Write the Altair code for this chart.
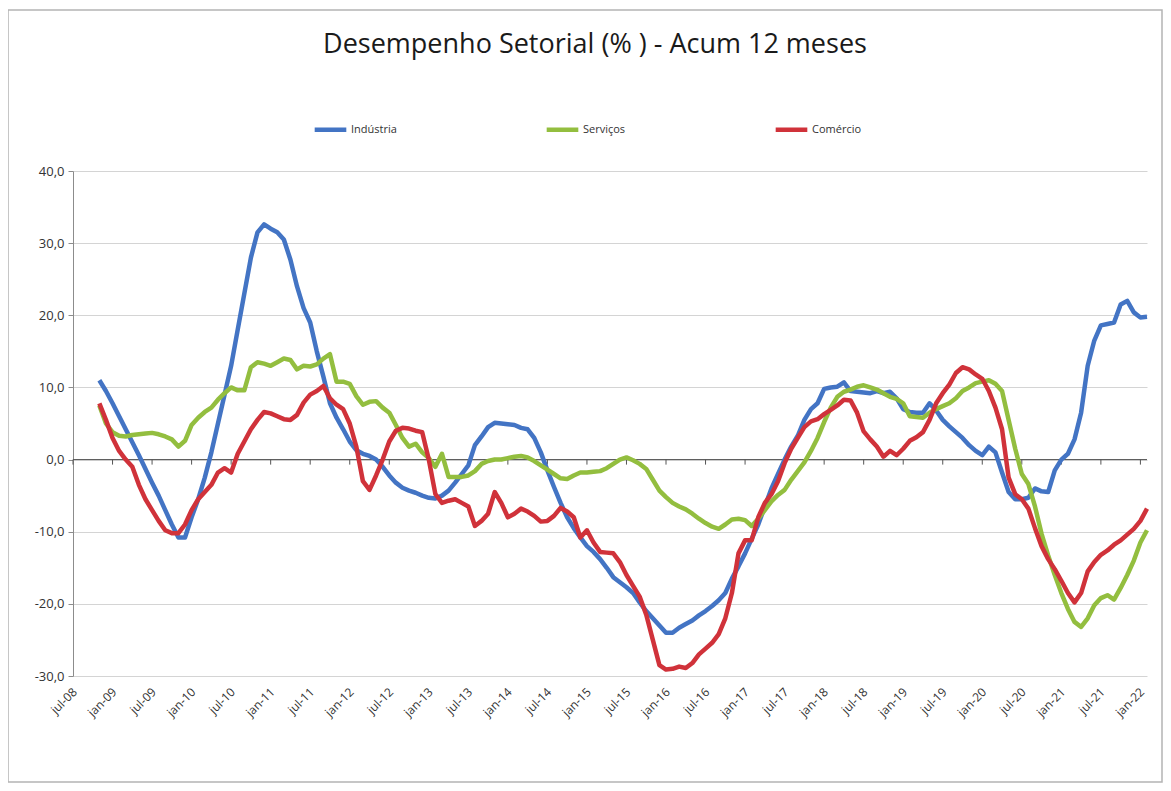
import altair as alt
import pandas as pd

# months since jul-08 (0 = jul-08); data start at nov-08 (4)
start_month = 4

industria = [11.0, 9.5, 7.8, 6.0, 4.2, 2.4, 0.6, -1.3, -3.2, -5.0, -7.0, -9.0, -10.8, -10.8,
             -8.0, -5.5, -2.5, 1.0, 5.0, 9.0, 13.0, 18.0, 23.0, 28.0, 31.5, 32.6, 32.0, 31.5,
             30.5, 27.7, 24.0, 21.0, 19.0, 15.0, 11.5, 7.8, 5.8, 4.2, 2.5, 1.3, 0.8, 0.5,
             0.0, -1.0, -2.2, -3.2, -3.9, -4.3, -4.6, -5.0, -5.3, -5.4, -5.0, -4.3, -3.2, -2.0,
             -0.8, 2.0, 3.2, 4.5, 5.1, 5.0, 4.9, 4.8, 4.4, 4.2, 3.0, 1.0, -1.5, -3.8,
             -6.0, -8.0, -9.5, -10.8, -12.0, -12.8, -13.8, -15.0, -16.3, -17.0, -17.7, -18.5, -19.8, -21.0,
             -22.0, -23.0, -24.0, -24.0, -23.3, -22.8, -22.3, -21.6, -21.0, -20.3, -19.5, -18.5, -16.5, -14.8,
             -13.0, -11.0, -9.0, -6.5, -4.0, -2.0, 0.0, 1.8, 3.3, 5.5, 7.0, 7.8, 9.8, 10.0,
             10.1, 10.7, 9.5, 9.4, 9.3, 9.2, 9.5, 9.2, 9.4, 8.5, 7.0, 6.6, 6.5, 6.5,
             7.8, 6.8, 5.5, 4.6, 3.8, 3.0, 2.0, 1.2, 0.6, 1.8, 1.0, -1.8, -4.5, -5.5,
             -5.5, -5.3, -4.0, -4.4, -4.5, -1.5, 0.0, 0.8, 2.8, 6.5, 13.0, 16.5, 18.6, 18.8,
             19.0, 21.5, 22.0, 20.4, 19.7, 19.8]

servicos = [7.5, 5.0, 3.8, 3.3, 3.2, 3.4, 3.5, 3.6, 3.7, 3.5, 3.2, 2.8, 1.8, 2.6,
            4.8, 5.8, 6.6, 7.2, 8.3, 9.2, 10.0, 9.6, 9.6, 12.8, 13.5, 13.3, 13.0, 13.5,
            14.0, 13.8, 12.5, 13.0, 12.9, 13.2, 14.0, 14.6, 10.8, 10.8, 10.5, 8.8, 7.6, 8.0,
            8.1, 7.2, 6.5, 4.8, 3.0, 1.8, 2.2, 1.0, 0.2, -1.0, 0.8, -2.4, -2.4, -2.4,
            -2.2, -1.6, -0.6, -0.2, 0.0, 0.0, 0.2, 0.4, 0.5, 0.3, -0.2, -0.8, -1.4, -2.0,
            -2.6, -2.7, -2.2, -1.8, -1.8, -1.7, -1.6, -1.2, -0.6, 0.0, 0.3, -0.1, -0.6, -1.3,
            -2.8, -4.3, -5.2, -6.0, -6.5, -6.9, -7.5, -8.2, -8.8, -9.3, -9.6, -9.0, -8.3, -8.2,
            -8.4, -9.2, -8.2, -7.0, -5.8, -4.9, -4.2, -2.8, -1.6, -0.4, 1.2, 3.0, 5.2, 7.2,
            8.7, 9.4, 9.7, 10.1, 10.3, 10.0, 9.7, 9.2, 8.7, 8.4, 7.8, 6.0, 5.9, 5.8,
            6.5, 7.0, 7.4, 7.8, 8.5, 9.5, 10.0, 10.6, 10.8, 11.0, 10.5, 9.5, 5.5, 1.5,
            -2.0, -3.4, -6.5, -10.3, -13.3, -16.0, -18.5, -20.7, -22.5, -23.2, -22.0, -20.2, -19.2, -18.8,
            -19.4, -17.8, -16.0, -14.0, -11.5, -9.8]

comercio = [7.8, 5.5, 3.0, 1.2, 0.0, -1.0, -3.5, -5.5, -7.0, -8.5, -9.8, -10.2, -10.2, -9.0,
            -7.0, -5.5, -4.5, -3.5, -1.8, -1.2, -1.8, 0.8, 2.5, 4.2, 5.5, 6.6, 6.4, 6.0,
            5.6, 5.5, 6.2, 7.9, 9.0, 9.5, 10.2, 8.5, 7.6, 7.0, 5.0, 1.8, -3.0, -4.2,
            -2.2, 0.0, 2.5, 4.0, 4.4, 4.3, 4.0, 3.8, 0.0, -4.8, -6.0, -5.7, -5.5, -6.0,
            -6.5, -9.2, -8.5, -7.5, -4.5, -6.0, -8.0, -7.5, -6.8, -7.2, -7.8, -8.6, -8.5, -7.8,
            -6.7, -7.2, -8.0, -10.8, -9.8, -11.5, -12.8, -12.9, -13.0, -14.2, -16.0, -17.5, -19.0, -21.5,
            -25.0, -28.5, -29.1, -29.0, -28.7, -28.9, -28.2, -27.0, -26.2, -25.4, -24.2, -22.0, -18.5, -13.0,
            -11.2, -11.2, -8.0, -6.0, -4.8, -3.0, -0.5, 1.5, 3.0, 4.5, 5.3, 5.6, 6.3, 6.9,
            7.5, 8.3, 8.2, 6.5, 3.9, 2.8, 1.8, 0.4, 1.2, 0.6, 1.5, 2.6, 3.1, 3.8,
            5.5, 7.8, 9.2, 10.4, 12.0, 12.8, 12.5, 11.8, 11.2, 9.5, 7.2, 4.2, -2.5, -4.8,
            -5.5, -6.8, -9.5, -12.0, -13.8, -15.2, -16.8, -18.5, -19.8, -18.5, -15.5, -14.2, -13.2, -12.6,
            -11.8, -11.2, -10.4, -9.6, -8.5, -6.8]

series_names = ["Indústria", "Serviços", "Comércio"]
series_colors = ["#4374C4", "#93BE3F", "#D0323A"]
series_widths = [4.5, 4.5, 2.2]

tick_labels = ["jul-08", "jan-09", "jul-09", "jan-10", "jul-10", "jan-11", "jul-11", "jan-12",
               "jul-12", "jan-13", "jul-13", "jan-14", "jul-14", "jan-15", "jul-15", "jan-16",
               "jul-16", "jan-17", "jul-17", "jan-18", "jul-18", "jan-19", "jul-19", "jan-20",
               "jul-20", "jan-21", "jul-21", "jan-22"]
tick_months = [6 * i for i in range(len(tick_labels))]

y_ticks = [-30, -20, -10, 0, 10, 20, 30, 40]

rows = []
for name, vals in zip(series_names, [industria, servicos, comercio]):
    for i, v in enumerate(vals):
        rows.append({"m": start_month + i, "v": v, "serie": name})
df = pd.DataFrame(rows)

W, H = 1074, 505
FONT = "Open Sans"

x_scale = alt.Scale(domain=[0, 163], nice=False, zero=False)
y_scale = alt.Scale(domain=[-30, 40], nice=False)
y_axis = alt.Axis(values=y_ticks, title=None,
                  labelExpr="(datum.value < 0 ? '-' : '') + abs(datum.value) + ',0'",
                  grid=True, gridColor="#d4d4d4", gridWidth=1,
                  domain=True, domainColor="#8c8c8c", ticks=True, tickSize=5,
                  tickColor="#8c8c8c", labelFontSize=13, labelFont=FONT,
                  labelColor="#333333", labelPadding=4)

frame = alt.Chart(pd.DataFrame({"a": [0]})).mark_rect(
    fill=None, stroke="#b4b4b4", strokeWidth=1.5
).encode(x=alt.value(-65), x2=alt.value(W + 15), y=alt.value(-161), y2=alt.value(H + 106))

lines = alt.Chart(df).mark_line(strokeJoin="round").encode(
    x=alt.X("m:Q", scale=x_scale, axis=None),
    y=alt.Y("v:Q", scale=y_scale, axis=y_axis),
    color=alt.Color("serie:N", sort=series_names,
                    scale=alt.Scale(domain=series_names, range=series_colors),
                    legend=alt.Legend(orient="none", legendX=239, legendY=-60,
                                      direction="horizontal", title=None,
                                      symbolType="stroke", symbolStrokeWidth=4,
                                      symbolSize=1000, labelFontSize=11, labelFont=FONT,
                                      labelColor="#333333", columnPadding=140,
                                      labelOffset=2)),
    strokeWidth=alt.StrokeWidth("serie:N",
                                scale=alt.Scale(domain=series_names, range=series_widths),
                                legend=None),
    order=alt.Order("m:Q"),
)

zero = alt.Chart(pd.DataFrame({"v": [0]})).mark_rule(color="#555555", strokeWidth=1).encode(
    y=alt.Y("v:Q", scale=y_scale, axis=y_axis)
)

ticks_df = pd.DataFrame({"m": tick_months, "lab": tick_labels,
                         "v": [0] * len(tick_months), "y1": [-0.7] * len(tick_months),
                         "yb": [-30] * len(tick_months)})
zero_ticks = alt.Chart(ticks_df).mark_rule(color="#555555", strokeWidth=1).encode(
    x=alt.X("m:Q", scale=x_scale, axis=None),
    y=alt.Y("v:Q", scale=y_scale, axis=y_axis), y2="y1:Q"
)

x_labels = alt.Chart(ticks_df).mark_text(
    angle=315, align="right", baseline="middle", fontSize=12, font=FONT,
    color="#333333", dx=-8.5, dy=11.3
).encode(x=alt.X("m:Q", scale=x_scale, axis=None),
         y=alt.Y("yb:Q", scale=y_scale, axis=y_axis), text="lab:N")

chart = alt.layer(frame, zero, zero_ticks, x_labels, lines).properties(
    width=W, height=H,
    title=alt.Title("Desempenho Setorial (% ) - Acum 12 meses", fontSize=27, font=FONT,
                    fontWeight="normal", color="#1a1a1a", anchor="middle", offset=-50, dx=-15),
    autosize=alt.AutoSizeParams(type="none"),
    padding={"left": 65, "top": 163, "right": 16, "bottom": 108},
).configure(background="white").configure_view(stroke=None)

chart.save("out.html", embed_options={"renderer": "svg", "actions": False})
